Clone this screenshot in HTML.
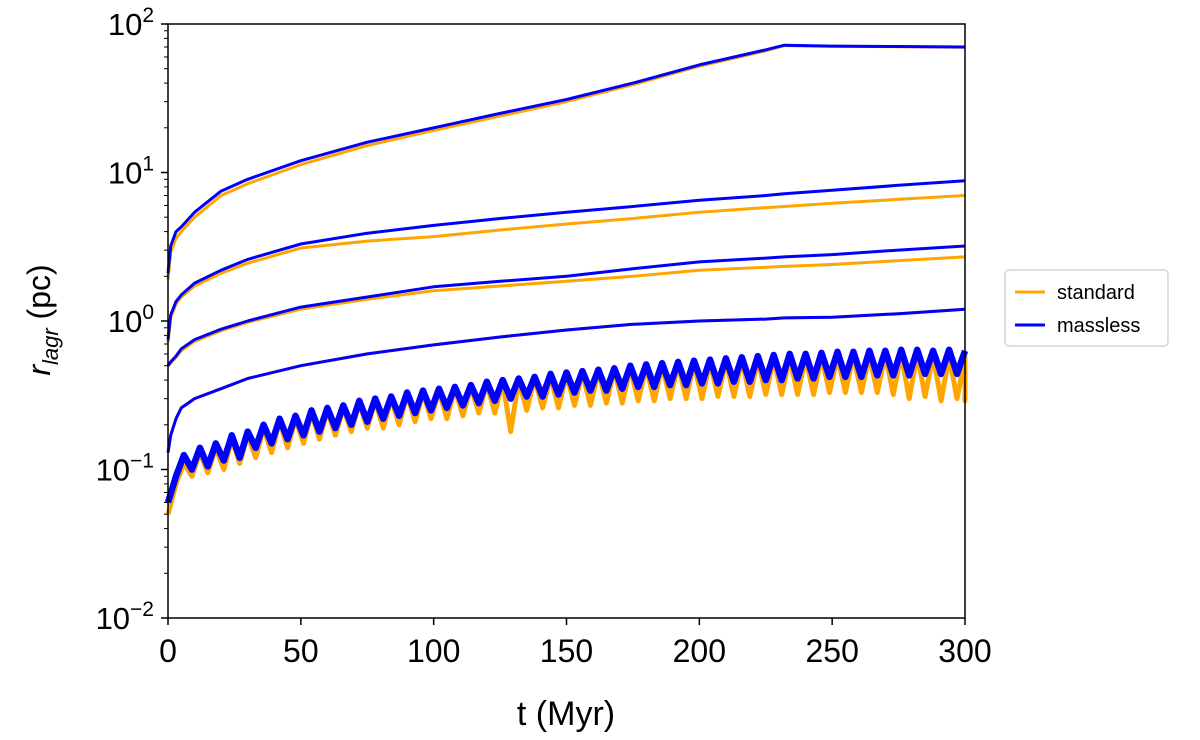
<!DOCTYPE html>
<html><head><meta charset="utf-8"><style>
body{margin:0;background:#fff;}
svg{font-family:"Liberation Sans",sans-serif;}
</style></head><body>
<svg id="chart" width="1200" height="735" viewBox="0 0 1200 735">
<g id="series"></g>
<g id="axes"></g>
<text x="566" y="725" font-size="34" text-anchor="middle">t (Myr)</text>
<text transform="translate(50,320) rotate(-90)" font-size="32" text-anchor="middle"><tspan font-style="italic">r</tspan><tspan font-style="italic" font-size="22" dy="8">lagr</tspan><tspan dy="-8"> (pc)</tspan></text>
<g>
<rect x="1005" y="270" width="163" height="76" rx="4" fill="#fff" stroke="#ccc" stroke-width="1.2"/>
<line x1="1015" y1="292" x2="1045" y2="292" stroke="orange" stroke-width="3"/>
<text x="1057" y="299" font-size="20">standard</text>
<line x1="1015" y1="325" x2="1045" y2="325" stroke="#0000ff" stroke-width="3"/>
<text x="1057" y="332" font-size="20">massless</text>
</g>
</svg>
<script>
const tSmooth=[0,1,3,5,10,20,30,50,75,100,125,150,175,200,225,232,250,275,300];
const b1=[2.1,3.2,4.0,4.3,5.4,7.5,9.0,12,16,20,25,31,40,53,67,72,71,70.5,70];
const o1=[1.9,2.9,3.6,4.0,5.0,7.0,8.4,11.3,15.2,19.2,24,30,39,52,66,71.5,70.8,70.3,69.8];
const b2=[0.75,1.1,1.35,1.5,1.8,2.2,2.6,3.3,3.9,4.4,4.9,5.4,5.9,6.5,7.0,7.2,7.6,8.2,8.8];
const o2=[0.72,1.05,1.3,1.45,1.72,2.1,2.45,3.1,3.45,3.7,4.1,4.5,4.9,5.4,5.8,5.9,6.2,6.6,7.0];
const b3=[0.5,0.53,0.58,0.65,0.75,0.88,1.0,1.24,1.45,1.7,1.85,2.0,2.25,2.5,2.65,2.7,2.8,3.0,3.2];
const o3=[0.5,0.52,0.57,0.63,0.73,0.86,0.98,1.2,1.4,1.6,1.72,1.85,2.0,2.2,2.3,2.33,2.4,2.55,2.7];
const b4=[0.13,0.17,0.22,0.26,0.3,0.35,0.41,0.5,0.6,0.69,0.78,0.87,0.95,1.0,1.03,1.05,1.06,1.12,1.2];
const o4=[0.13,0.17,0.22,0.26,0.3,0.35,0.41,0.5,0.6,0.69,0.78,0.87,0.95,1.0,1.03,1.05,1.06,1.12,1.2];
const noiseStep=3;
const b5=[0.06,0.09,0.125,0.1,0.14,0.105,0.15,0.115,0.17,0.12,0.18,0.14,0.2,0.15,0.22,0.16,0.23,0.17,0.25,0.18,0.26,0.19,0.27,0.2,0.29,0.21,0.3,0.22,0.31,0.23,0.33,0.24,0.34,0.25,0.35,0.26,0.36,0.27,0.37,0.28,0.39,0.29,0.4,0.3,0.41,0.31,0.42,0.31,0.44,0.32,0.45,0.33,0.46,0.34,0.47,0.34,0.48,0.35,0.5,0.36,0.51,0.36,0.52,0.37,0.53,0.37,0.54,0.38,0.55,0.38,0.56,0.39,0.57,0.39,0.58,0.4,0.59,0.4,0.6,0.41,0.6,0.41,0.61,0.42,0.62,0.42,0.62,0.42,0.63,0.43,0.63,0.43,0.64,0.43,0.64,0.44,0.63,0.44,0.64,0.44,0.63];
const o5=[0.05,0.08,0.11,0.09,0.13,0.095,0.14,0.1,0.16,0.11,0.17,0.12,0.19,0.13,0.21,0.14,0.22,0.15,0.24,0.16,0.25,0.17,0.26,0.18,0.28,0.19,0.29,0.19,0.3,0.2,0.32,0.21,0.33,0.22,0.34,0.22,0.35,0.23,0.36,0.24,0.38,0.24,0.39,0.18,0.4,0.25,0.41,0.26,0.42,0.26,0.44,0.27,0.45,0.27,0.46,0.28,0.47,0.28,0.48,0.29,0.49,0.29,0.5,0.3,0.51,0.3,0.52,0.3,0.53,0.31,0.54,0.31,0.55,0.31,0.55,0.32,0.56,0.32,0.57,0.32,0.57,0.32,0.58,0.33,0.58,0.33,0.59,0.33,0.59,0.33,0.6,0.32,0.6,0.3,0.6,0.31,0.59,0.29,0.58,0.3,0.57,0.29,0.56];
const xTicks=[0,50,100,150,200,250,300];
const yTickExp=[-2,-1,0,1,2];

const X0=168,X1=965,Y0=618,Y1=24;
const xs=t=>X0+(t/300)*(X1-X0);
const ys=v=>Y0-(Math.log10(v)+2)/4*(Y0-Y1);
const NS="http://www.w3.org/2000/svg";
const sg=document.getElementById('series'), ag=document.getElementById('axes');
function line(ts,vs,color,w,name){
  const p=document.createElementNS(NS,'polyline');
  p.setAttribute('points',vs.map((v,i)=>xs(ts[i]).toFixed(1)+','+ys(v).toFixed(1)).join(' '));
  p.setAttribute('fill','none');p.setAttribute('stroke',color);p.setAttribute('stroke-width',w);p.setAttribute('stroke-linejoin','round');
  
  
  sg.appendChild(p);
}
const tN=b5.map((_,i)=>Math.min(300,i*noiseStep));
const tN2=o5.map((_,i)=>Math.min(300,i*noiseStep));
line(tN2,o5,'orange',5,'standard-line-5');
line(tN,b5,'#0000ff',6.5,'massless-line-5');
[[o4,'standard-line-4'],[o3,'standard-line-3'],[o2,'standard-line-2'],[o1,'standard-line-1']].forEach(a=>line(tSmooth,a[0],'orange',3,a[1]));
[[b4,'massless-line-4'],[b3,'massless-line-3'],[b2,'massless-line-2'],[b1,'massless-line-1']].forEach(a=>line(tSmooth,a[0],'#0000ff',3,a[1]));
function el(tag,attrs,name,parent){const e=document.createElementNS(NS,tag);for(const k in attrs)e.setAttribute(k,attrs[k]);
  
  
  (parent||ag).appendChild(e);return e;}
el('rect',{x:X0,y:Y1,width:X1-X0,height:Y0-Y1,fill:'none',stroke:'#000','stroke-width':1.5},'plot-frame');
xTicks.forEach(t=>{
  el('line',{x1:xs(t),y1:Y0,x2:xs(t),y2:Y0+7,stroke:'#000','stroke-width':1.5},'x-tick');
  const tx=el('text',{x:xs(t),y:Y0+44,'font-size':32,'text-anchor':'middle'},'x-tick-label');tx.textContent=t;
});
yTickExp.forEach(e=>{
  const y=ys(Math.pow(10,e));
  el('line',{x1:X0-7,y1:y,x2:X0,y2:y,stroke:'#000','stroke-width':1.5},'y-tick');
  const tx=el('text',{x:X0-14,y:y+11,'font-size':31,'text-anchor':'end'},'y-tick-label');
  const a=document.createElementNS(NS,'tspan');a.textContent='10';tx.appendChild(a);
  const b=document.createElementNS(NS,'tspan');b.setAttribute('dy','-13');b.setAttribute('font-size','21');b.textContent=(e<0?'\u2212':'')+Math.abs(e);tx.appendChild(b);
  if(e<2)for(let m=2;m<10;m++){const ym=ys(m*Math.pow(10,e));el('line',{x1:X0-4,y1:ym,x2:X0,y2:ym,stroke:'#000','stroke-width':1},'y-minor-tick');}
});
</script>
</body></html>
